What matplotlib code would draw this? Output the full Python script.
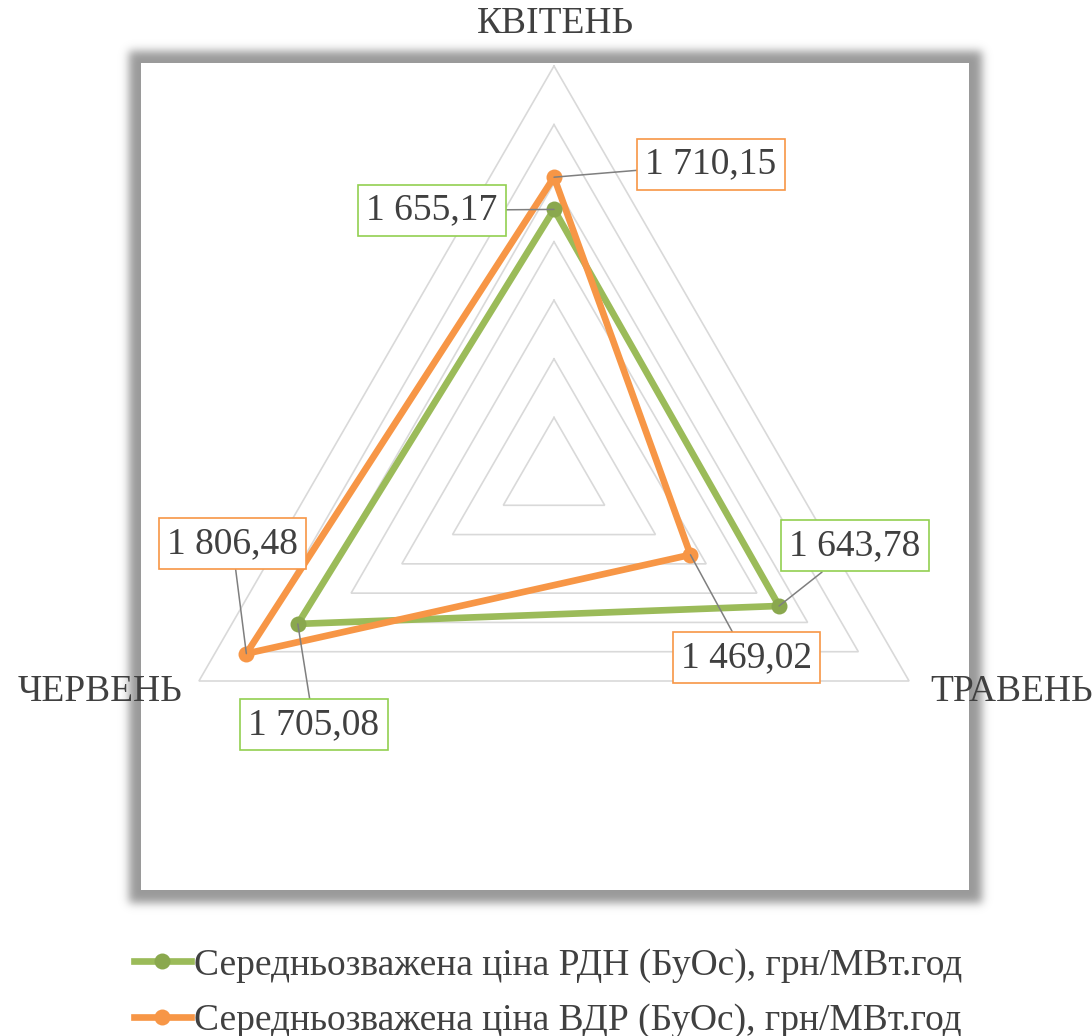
#!/usr/bin/env python3
"""
Radar chart: weighted average prices (RDN vs VDR), April - June
"""

import numpy as np
import matplotlib.pyplot as plt
from matplotlib.patches import Rectangle
from matplotlib.lines import Line2D

# Data
months = ['КВІТЕНЬ', 'ТРАВЕНЬ', 'ЧЕРВЕНЬ']
rdn_price = [1655.17, 1643.78, 1705.08]
vdr_price = [1710.15, 1469.02, 1806.48]
series_names = ['Середньозважена ціна РДН (БуОс), грн/МВт.год',
                'Середньозважена ціна ВДР (БуОс), грн/МВт.год']
axis_min, axis_max, axis_step = 1200, 1900, 100

# Style
W, H = 1092, 1036
GREEN = '#9BBB59'
GREEN_MK = '#8AA84E'
GREEN_BOX = '#92D050'
ORANGE = '#F79646'
TEXT = '#404040'
GRID = '#D9D9D9'
FONT = 'Liberation Serif'
FS = 27

plt.rcParams['font.family'] = [FONT, 'DejaVu Serif']

# radar geometry (pixels)
cx, cy, R = 554, 476, 410
angles = np.deg2rad([90, -30, 210])


def to_xy(values):
    r = (np.asarray(values, dtype=float) - axis_min) / (axis_max - axis_min)
    return r * np.cos(angles), r * np.sin(angles)


def fmt(v):
    s = f"{v:,.2f}"
    return s.replace(',', ' ').replace('.', ',')


fig = plt.figure(figsize=(W / 100, H / 100), dpi=100)
fig.patch.set_facecolor('white')

# background: plot area with soft gray frame
bg = fig.add_axes([0, 0, 1, 1], zorder=0)
bg.set_xlim(0, W)
bg.set_ylim(H, 0)
bg.axis('off')


def soft_edge(n, lo, hi, sigma):
    t = np.arange(n) + 0.5
    k = np.arange(-4 * int(sigma) - 1, 4 * int(sigma) + 2)
    g = np.exp(-k ** 2 / (2 * sigma ** 2))
    g /= g.sum()
    ind = ((t >= lo) & (t <= hi)).astype(float)
    return np.convolve(ind, g, mode='same')


alpha = np.outer(soft_edge(H, 51, 903, 4.5), soft_edge(W, 129, 982, 4.5))
shadow = np.zeros((H, W, 4))
shadow[..., :3] = 0.6
shadow[..., 3] = np.clip(alpha, 0, 1)
bg.imshow(shadow, extent=(0, W, H, 0), aspect='auto', interpolation='nearest')
bg.add_patch(Rectangle((141, 63), 828, 827, facecolor='white', edgecolor='none'))

# radar axes in unit radius coordinates
ax = fig.add_axes([0, 0, 1, 1], zorder=1)
ax.set_facecolor('none')
ax.set_xlim(-cx / R, (W - cx) / R)
ax.set_ylim(-(H - cy) / R, cy / R)
ax.axis('off')

# triangular grid
n_rings = int((axis_max - axis_min) / axis_step)
for i in range(1, n_rings + 1):
    rr = i / n_rings
    gx = np.append(rr * np.cos(angles), rr * np.cos(angles[0]))
    gy = np.append(rr * np.sin(angles), rr * np.sin(angles[0]))
    ax.plot(gx, gy, color=GRID, lw=1.2, zorder=1, solid_joinstyle='miter')

# series
series = [(rdn_price, GREEN, GREEN_MK, GREEN_BOX),
          (vdr_price, ORANGE, ORANGE, ORANGE)]
for vals, col, mk, _ in series:
    x, y = to_xy(vals)
    ax.plot(np.append(x, x[0]), np.append(y, y[0]), color=col, lw=4.8,
            zorder=3, solid_joinstyle='round')
    ax.plot(x, y, 'o', color=mk, ms=11.5, mec='none', zorder=4)

# data labels (offsets in pixels from the marker)
label_offsets = [
    [(-122, -1), (76, 60), (16, -101)],
    [(157, 13), (56, -103), (-14, 110)],
]
for (vals, col, mk, box), offs in zip(series, label_offsets):
    x, y = to_xy(vals)
    for xi, yi, v, off in zip(x, y, vals, offs):
        ax.annotate(fmt(v), xy=(xi, yi), xytext=off, textcoords='offset pixels',
                    ha='center', va='center', fontsize=FS, color=TEXT, zorder=5,
                    bbox=dict(boxstyle='square,pad=0.22', facecolor='white',
                              edgecolor=box, lw=1.2),
                    arrowprops=dict(arrowstyle='-', color='#7F7F7F', lw=1.1,
                                    shrinkA=0, shrinkB=0))

# category labels
cat_offsets = [((1, 42), 'center'), ((21, -11), 'left'), ((-17, -11), 'right')]
for name, a, (off, ha) in zip(months, angles, cat_offsets):
    ax.annotate(name, xy=(np.cos(a), np.sin(a)), xytext=off,
                textcoords='offset pixels', ha=ha, va='center',
                fontsize=FS, color=TEXT, zorder=6)

# legend
handles = [Line2D([], [], color=GREEN, lw=4.8, marker='o', ms=11.5, mfc=GREEN_MK, mec='none'),
           Line2D([], [], color=ORANGE, lw=4.8, marker='o', ms=11.5, mfc=ORANGE, mec='none')]
leg = fig.legend(handles, series_names, loc='center', bbox_to_anchor=(548 / W, 1 - 993 / H),
                 frameon=False, fontsize=FS, handlelength=1.5, handletextpad=0.08,
                 labelspacing=0.55, borderpad=0)
for t in leg.get_texts():
    t.set_color(TEXT)

fig.savefig('out.png', dpi=100, facecolor='white')
